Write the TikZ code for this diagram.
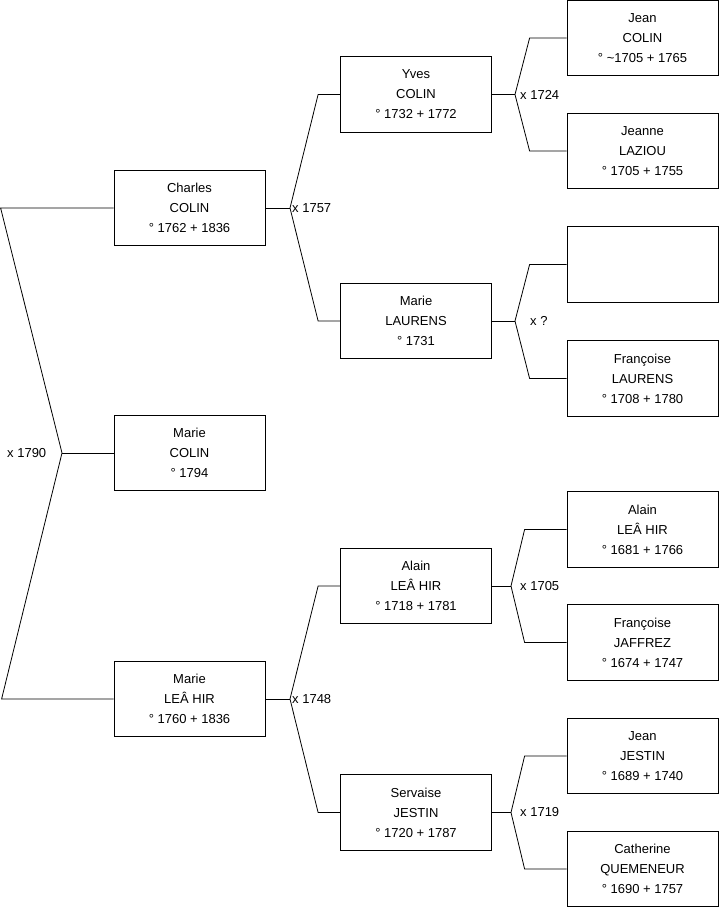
\documentclass[tikz,border=0pt]{standalone}
\usepackage{fontspec}
\setmainfont{Liberation Sans}
\begin{document}
\begin{tikzpicture}[x=1pt,y=-1pt,
  person/.style={draw, line width=0.8pt, rectangle, minimum width=151pt, minimum height=75.5pt,
    align=center, inner sep=0pt, font=\fontsize{13}{20}\selectfont},
  link/.style={line width=0.8pt},
  marr/.style={anchor=west, inner sep=0pt, font=\fontsize{13}{15}\selectfont}]
\useasboundingbox (0,0) rectangle (719,908);
% generation 1
\node[person] (charles) at (189.5,208) {Charles\\COLIN\\° 1762 + 1836};
\node[person] (mariec) at (189.5,453) {Marie\\COLIN\\° 1794};
\node[person] (mariel) at (189.5,699) {Marie\\LEÂ HIR\\° 1760 + 1836};
% generation 2
\node[person] (yves) at (416,94.5) {Yves\\COLIN\\° 1732 + 1772};
\node[person] (laurens) at (416,321) {Marie\\LAURENS\\° 1731};
\node[person] (alain) at (416,586) {Alain\\LEÂ HIR\\° 1718 + 1781};
\node[person] (servaise) at (416,812.5) {Servaise\\JESTIN\\° 1720 + 1787};
% generation 3
\node[person] (jean) at (642.5,38) {Jean\\COLIN\\° \textasciitilde1705 + 1765};
\node[person] (jeanne) at (642.5,151) {Jeanne\\LAZIOU\\° 1705 + 1755};
\node[person] (unknown) at (642.5,264.5) {};
\node[person] (francoisel) at (642.5,378.5) {Françoise\\LAURENS\\° 1708 + 1780};
\node[person] (alainb) at (642.5,529.5) {Alain\\LEÂ HIR\\° 1681 + 1766};
\node[person] (jaffrez) at (642.5,642.5) {Françoise\\JAFFREZ\\° 1674 + 1747};
\node[person] (jeanj) at (642.5,756) {Jean\\JESTIN\\° 1689 + 1740};
\node[person] (catherine) at (642.5,869) {Catherine\\QUEMENEUR\\° 1690 + 1757};
% marriage vertices
\coordinate (v0) at (62,453);
\coordinate (v1) at (290,208);
\coordinate (v2) at (290,699);
\coordinate (v3) at (515,94.5);
\coordinate (v4) at (515,321);
\coordinate (v5) at (511,586);
\coordinate (v6) at (511,812.5);
% connectors
\draw[link] (charles.west) -- ([xshift=-113pt]charles.west) -- (v0) -- ([xshift=-112pt]mariel.west) -- (mariel.west);
\draw[link] (v0) -- (mariec.west);
\draw[link] (charles.east) -- (v1);
\draw[link] (yves.west) -- ([xshift=-22pt]yves.west) -- (v1) -- ([xshift=-22pt]laurens.west) -- (laurens.west);
\draw[link] (mariel.east) -- (v2);
\draw[link] (alain.west) -- ([xshift=-22pt]alain.west) -- (v2) -- ([xshift=-22pt]servaise.west) -- (servaise.west);
\draw[link] (yves.east) -- (v3);
\draw[link] (jean.west) -- ([xshift=-37pt]jean.west) -- (v3) -- ([xshift=-37pt]jeanne.west) -- (jeanne.west);
\draw[link] (laurens.east) -- (v4);
\draw[link] (unknown.west) -- ([xshift=-37pt]unknown.west) -- (v4) -- ([xshift=-37pt]francoisel.west) -- (francoisel.west);
\draw[link] (alain.east) -- (v5);
\draw[link] (alainb.west) -- ([xshift=-42pt]alainb.west) -- (v5) -- ([xshift=-42pt]jaffrez.west) -- (jaffrez.west);
\draw[link] (servaise.east) -- (v6);
\draw[link] (jeanj.west) -- ([xshift=-42pt]jeanj.west) -- (v6) -- ([xshift=-42pt]catherine.west) -- (catherine.west);
% marriage labels
\node[marr] (m0) at (7,453) {x 1790};
\node[marr] (m1) at (292,208) {x 1757};
\node[marr] (m2) at (292,699) {x 1748};
\node[marr] (m3) at (520,94.5) {x 1724};
\node[marr] (m4) at (530,321) {x ?};
\node[marr] (m5) at (520,586) {x 1705};
\node[marr] (m6) at (520,812.5) {x 1719};
\end{tikzpicture}
\end{document}
